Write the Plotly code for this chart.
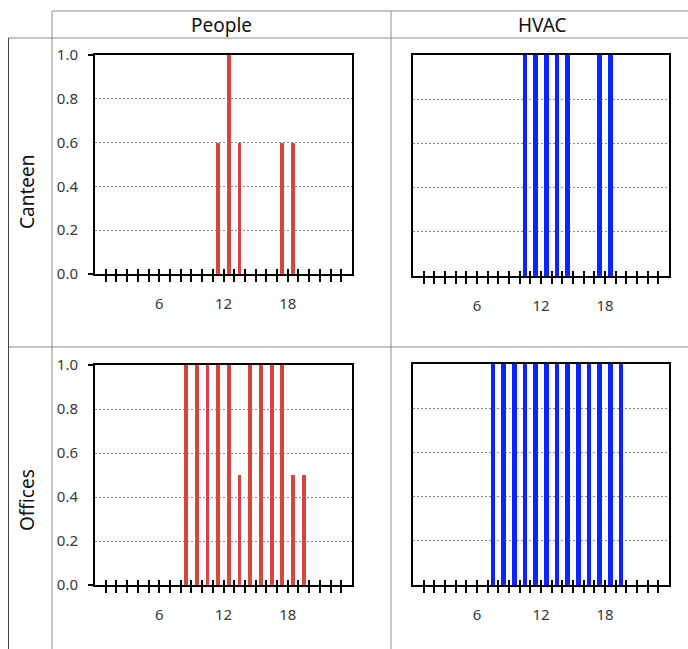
import plotly.graph_objects as go

# ---------------- data ----------------
hours = list(range(24))
x_tick_vals = list(range(1, 24))
x_tick_text = ["6" if h == 6 else "12" if h == 12 else "18" if h == 18 else "" for h in x_tick_vals]
y_tick_vals = [0, 0.2, 0.4, 0.6, 0.8, 1.0]
y_tick_text = ["0.0", "0.2", "0.4", "0.6", "0.8", "1.0"]

col_titles = ["People", "HVAC"]
row_titles = ["Canteen", "Offices"]

canteen_people = [0, 0, 0, 0, 0, 0, 0, 0, 0, 0, 0, 0.6, 1.0, 0.6, 0, 0, 0, 0.6, 0.6, 0, 0, 0, 0, 0]
canteen_hvac = [0, 0, 0, 0, 0, 0, 0, 0, 0, 0, 1, 1, 1, 1, 1, 0, 0, 1, 1, 0, 0, 0, 0, 0]
offices_people = [0, 0, 0, 0, 0, 0, 0, 0, 1, 1, 1, 1, 1, 0.5, 1, 1, 1, 1, 0.5, 0.5, 0, 0, 0, 0]
offices_hvac = [0, 0, 0, 0, 0, 0, 0, 1, 1, 1, 1, 1, 1, 1, 1, 1, 1, 1, 1, 1, 0, 0, 0, 0]

# ---------------- style ----------------
W, H = 688, 649
FONT = "Noto Sans"
RED = "#d2473f"
BLUE = "#0a24ff"
TICK_COLOR = "#383838"


def px(p):
    return p / W


def py(p):
    return 1 - p / H


panels = [
    # (values, color, bar width, x pixel span, y pixel span, show y labels)
    (canteen_people, RED, 0.36, (95, 352), (55, 274), True),
    (canteen_hvac, BLUE, 0.45, (413, 669), (55, 276), False),
    (offices_people, RED, 0.36, (95, 352), (365, 585), True),
    (offices_hvac, BLUE, 0.45, (413, 669), (364, 585), False),
]

fig = go.Figure()
layout = {}

for i, (vals, color, bw, (x0, x1), (y0, y1), ylab) in enumerate(panels, start=1):
    xa = "x" if i == 1 else f"x{i}"
    ya = "y" if i == 1 else f"y{i}"
    fig.add_trace(go.Bar(
        x=hours, y=vals, width=bw, offset=0.5 - bw / 2,
        marker=dict(color=color, line=dict(width=0)),
        xaxis=xa, yaxis=ya, showlegend=False, hoverinfo="x+y",
    ))
    xkey = "xaxis" if i == 1 else f"xaxis{i}"
    ykey = "yaxis" if i == 1 else f"yaxis{i}"
    layout[xkey] = dict(
        domain=[px(x0), px(x1)], anchor=ya, range=[0, 24],
        tickmode="array", tickvals=x_tick_vals, ticktext=x_tick_text,
        ticks="outside", ticklen=6, tickwidth=2, tickcolor="black",
        ticklabelstandoff=9,
        tickfont=dict(family=FONT, size=15, color=TICK_COLOR),
        showline=True, linecolor="black", linewidth=2, mirror=True,
        showgrid=False, zeroline=False, fixedrange=True, automargin=False,
    )
    layout[ykey] = dict(
        domain=[py(y1), py(y0)], anchor=xa, range=[0, 1],
        tickmode="array", tickvals=y_tick_vals, ticktext=y_tick_text,
        showticklabels=ylab, ticks="", ticklabelstandoff=12,
        tickfont=dict(family=FONT, size=15, color=TICK_COLOR),
        showline=True, linecolor="black", linewidth=2, mirror=True,
        showgrid=True, gridcolor="#8a8a8a", gridwidth=1, griddash="2px,2px",
        zeroline=False, fixedrange=True, automargin=False,
    )
    # overlay x axis for the inner half of the cross tick marks
    ox = 4 + i
    layout[f"xaxis{ox}"] = dict(
        overlaying=xa, anchor=ya, side="bottom", range=[0, 24],
        tickmode="array", tickvals=x_tick_vals, ticks="inside", ticklen=5,
        tickwidth=2, tickcolor="black", showticklabels=False,
        showline=False, showgrid=False, zeroline=False, fixedrange=True, automargin=False,
    )
    fig.add_trace(go.Scatter(x=[], y=[], xaxis=f"x{ox}", yaxis=ya, showlegend=False, hoverinfo="skip"))
    if ylab:
        layout[f"yaxis{ox}"] = dict(
            overlaying=ya, anchor=xa, side="left", range=[0, 1],
            tickmode="array", tickvals=[0, 1], ticks="outside", ticklen=6,
            tickwidth=2, tickcolor="black", showticklabels=False,
            showline=False, showgrid=False, zeroline=False, fixedrange=True, automargin=False,
        )
        fig.add_trace(go.Scatter(x=[], y=[], xaxis=xa, yaxis=f"y{ox}", showlegend=False, hoverinfo="skip"))

# table lines
GRID = "#8c8c8c"
shapes = [
    dict(type="line", xref="paper", yref="paper", x0=px(52), x1=1, y0=py(11), y1=py(11), line=dict(color=GRID, width=1)),
    dict(type="line", xref="paper", yref="paper", x0=px(8), x1=1, y0=py(38), y1=py(38), line=dict(color=GRID, width=1)),
    dict(type="line", xref="paper", yref="paper", x0=px(8), x1=1, y0=py(347), y1=py(347), line=dict(color=GRID, width=1)),
    dict(type="line", xref="paper", yref="paper", x0=px(8.5), x1=px(8.5), y0=py(38), y1=0, line=dict(color="#444444", width=1)),
    dict(type="line", xref="paper", yref="paper", x0=px(52), x1=px(52), y0=py(11), y1=0, line=dict(color=GRID, width=1)),
    dict(type="line", xref="paper", yref="paper", x0=px(391), x1=px(391), y0=py(11), y1=0, line=dict(color=GRID, width=1)),
]

annotations = [
    dict(text=col_titles[0], x=px(221), y=py(25), xref="paper", yref="paper", showarrow=False,
         xanchor="center", yanchor="middle", font=dict(family=FONT, size=19, color="#111111")),
    dict(text=col_titles[1], x=px(542), y=py(25), xref="paper", yref="paper", showarrow=False,
         xanchor="center", yanchor="middle", font=dict(family=FONT, size=19, color="#111111")),
    dict(text=row_titles[0], x=px(27), y=py(192), xref="paper", yref="paper", showarrow=False,
         textangle=-90, xanchor="center", yanchor="middle", font=dict(family=FONT, size=19, color="#111111")),
    dict(text=row_titles[1], x=px(27), y=py(500), xref="paper", yref="paper", showarrow=False,
         textangle=-90, xanchor="center", yanchor="middle", font=dict(family=FONT, size=19, color="#111111")),
]

fig.update_layout(
    width=W, height=H, margin=dict(l=0, r=0, t=0, b=0, pad=0), autosize=False,
    paper_bgcolor="white", plot_bgcolor="white",
    bargap=0, showlegend=False,
    shapes=shapes, annotations=annotations,
    **layout,
)

fig.write_html(
    "out.html",
    config={"displayModeBar": False},
    post_script="document.body.style.margin='0';document.body.style.overflow='hidden';",
)
